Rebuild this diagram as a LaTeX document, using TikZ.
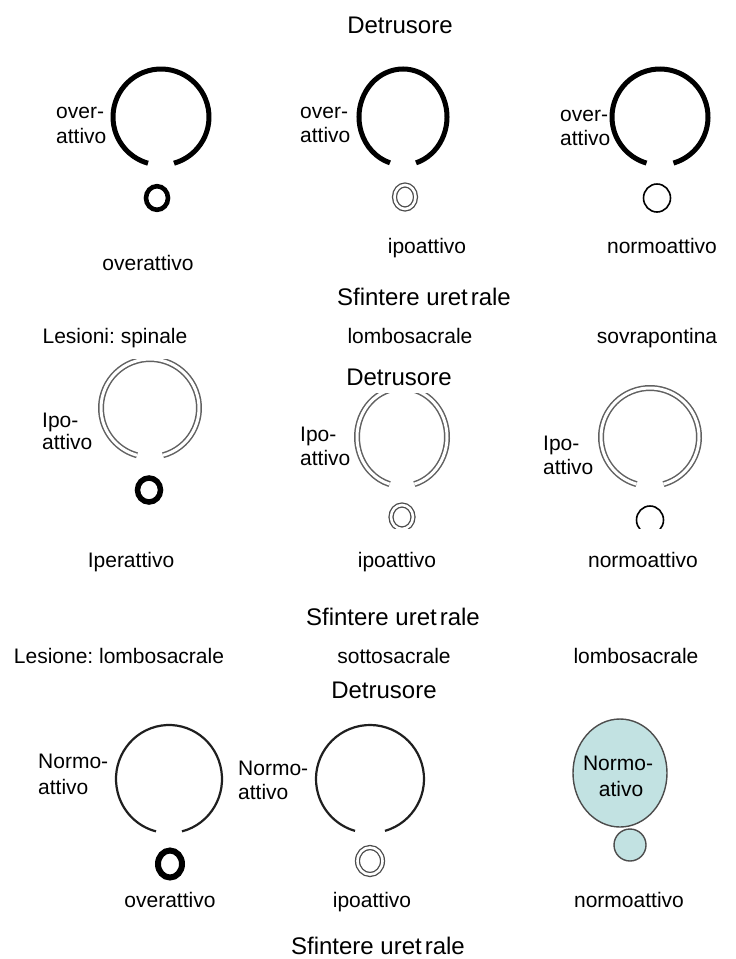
\documentclass[tikz,border=0pt]{standalone}
\usepackage{fontspec}
\setmainfont{Liberation Sans}
\definecolor{bladderfill}{RGB}{194,226,226}
% open ring: style, centre, x radius, y radius, half opening angle at the bottom
\newcommand\gapring[5]{%
  \draw[#1] (#2) ++({-90+#5}:#3 and #4)
    arc[start angle={-90+#5}, end angle={270-#5}, x radius=#3, y radius=#4];}
\begin{document}
\frenchspacing
\begin{tikzpicture}[x=1pt,y=1pt,
  lbl/.style={inner sep=0pt, font=\fontsize{21}{24}\selectfont, anchor=base},
  side/.style={lbl, anchor=base west},
  ttl/.style={inner sep=0pt, font=\fontsize{24}{28}\selectfont, anchor=base},
  heavy/.style={line width=5pt, black},
  dbl/.style={draw=black!62, line width=1.5pt, double=white, double distance=3pt},
  dblsmall/.style={draw=black!70, line width=1.3pt, double=white, double distance=2.6pt},
  fine/.style={line width=2.2pt, black!88},
  hair/.style={line width=1.6pt, black},
  bladder/.style={draw=black!70, line width=1.4pt, fill=bladderfill},
]
\useasboundingbox (0,0) rectangle (736,-959);
\fill[white] (0,0) rectangle (736,-959);

% ---------- first block ----------
\node[ttl] (t1) at (400,-33) {Detrusore};
\node[side] (a1) at (56,-118) {over-};
\node[side] (a1b) at (56,-143) {attivo};
\node[side] (a2) at (300,-118) {over-};
\node[side] (a2b) at (300,-142) {attivo};
\node[side] (a3) at (560,-121) {over-};
\node[side] (a3b) at (560,-145) {attivo};

\coordinate (c11) at (161,-117);
\coordinate (c12) at (403,-117);
\coordinate (c13) at (660,-117);
\gapring{heavy}{c11}{48}{48}{15.7}
\gapring{heavy}{c12}{44}{48}{17.2}
\gapring{heavy}{c13}{48}{48}{16.3}

\draw[line width=4.6pt, black] (157,-198) ellipse[x radius=11, y radius=11.8];
\draw[dblsmall] (405,-197) ellipse[x radius=10.5, y radius=12];
\draw[hair] (657,-198) ellipse[x radius=13.5, y radius=14];

\node[lbl] (u11) at (148,-270) {overattivo};
\node[lbl] (u12) at (427,-253) {ipoattivo};
\node[lbl] (u13) at (662,-253) {normoattivo};
\node[ttl] (s1) at (424,-305) {Sfintere uret\kern3pt rale};

% ---------- second block ----------
\node[lbl] (l21) at (115,-343) {Lesioni: spinale};
\node[lbl] (l22) at (410,-343) {lombosacrale};
\node[lbl] (l23) at (657,-343) {sovrapontina};

\coordinate (c21) at (150,-408);
\coordinate (c22) at (402,-437);
\coordinate (c23) at (650,-437);
\begin{scope}
  \clip (0,-359) rectangle (736,-959);
  \gapring{dbl}{c21}{49}{49}{15.4}
\end{scope}
\gapring{dbl}{c22}{45}{49}{16}
\gapring{dbl}{c23}{49}{49}{16}
\node[ttl, fill=white, inner sep=3pt, text depth=5pt] (t2) at (399,-385) {Detrusore};

\node[side] (b1) at (42,-427) {Ipo-};
\node[side] (b1b) at (42,-449) {attivo};
\node[side] (b2) at (300,-441) {Ipo-};
\node[side] (b2b) at (300,-465) {attivo};
\node[side] (b3) at (543,-450) {Ipo-};
\node[side] (b3b) at (543,-474) {attivo};

\draw[line width=5.5pt, black] (149,-490) ellipse[x radius=11.5, y radius=12];
\begin{scope}
  \clip (0,-300) rectangle (736,-528);
  \draw[dblsmall] (402,-517) ellipse[x radius=11, y radius=12];
  \draw[hair] (650,-520) ellipse[x radius=13.5, y radius=14];
\end{scope}

\node[lbl] (u21) at (131,-567) {Iperattivo};
\node[lbl] (u22) at (397,-567) {ipoattivo};
\node[lbl] (u23) at (643,-567) {normoattivo};
\node[ttl] (s2) at (393,-625) {Sfintere uret\kern3pt rale};

% ---------- third block ----------
\node[lbl] (l31) at (119,-663) {Lesione: lombosacrale};
\node[lbl] (l32) at (394,-663) {sottosacrale};
\node[lbl] (l33) at (636,-663) {lombosacrale};
\node[ttl] (t3) at (384,-698) {Detrusore};

\coordinate (c31) at (169,-779);
\coordinate (c32) at (370,-779);
\gapring{fine}{c31}{53}{54}{14.2}
\gapring{fine}{c32}{54}{54}{16.1}
\node[side] (n1) at (38,-768) {Normo-};
\node[side] (n1b) at (38,-794) {attivo};
\node[side] (n2) at (238,-775) {Normo-};
\node[side] (n2b) at (238,-799) {attivo};

\draw[line width=6pt, black] (170,-864) ellipse[x radius=12, y radius=13.5];
\draw[dblsmall] (370,-861) ellipse[x radius=12.5, y radius=13.5];

\draw[bladder] (620,-773) ellipse[x radius=47, y radius=54];
\draw[bladder] (630,-845) circle[radius=16];
\node[lbl] (n3) at (618,-770) {Normo-};
\node[lbl] (n3b) at (621,-796) {ativo};

\node[lbl] (u31) at (170,-907) {overattivo};
\node[lbl] (u32) at (372,-907) {ipoattivo};
\node[lbl] (u33) at (629,-907) {normoattivo};
\node[ttl] (s3) at (378,-954) {Sfintere uret\kern3pt rale};
\end{tikzpicture}
\end{document}
